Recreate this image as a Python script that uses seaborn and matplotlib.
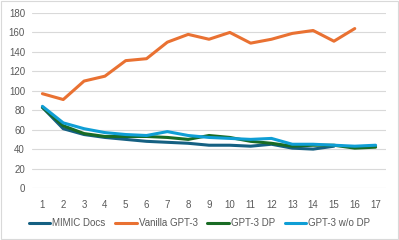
import numpy as np
import pandas as pd
import matplotlib.pyplot as plt
import seaborn as sns
from matplotlib.patches import Rectangle

# Values
mimic_docs = [83, 61, 55, 52, 50, 48, 47, 46, 44, 44, 43, 45, 41, 40, 43]
vanilla_gpt3 = [97, 91, 110, 115, 131, 133, 150, 158, 153, 160, 149, 153, 159, 162, 151, 164]
gpt3_dp = [83, 64, 56, 53, 53, 53, 52, 50, 54, 52, 48, 46, 43, 44, 44, 41, 42]
gpt3_wo_dp = [84, 67, 61, 57, 55, 54, 58, 54, 52, 51, 50, 51, 45, 45, 44, 43, 44]

series_names = ['MIMIC Docs', 'Vanilla GPT-3', 'GPT-3 DP', 'GPT-3 w/o DP']
series_values = [mimic_docs, vanilla_gpt3, gpt3_dp, gpt3_wo_dp]
colors = ['#156082', '#E97132', '#196B24', '#0F9ED5']
x_ticks = list(range(1, 18))
y_ticks = list(range(0, 181, 20))

rows = []
for name, vals in zip(series_names, series_values):
    for i, v in enumerate(vals):
        rows.append({'step': i + 1, 'value': v, 'series': name})
df = pd.DataFrame(rows)

sns.set_theme(style='white')
plt.rcParams['font.family'] = ['Liberation Sans', 'DejaVu Sans']

fig = plt.figure(figsize=(3.99, 2.40), dpi=100)
ax = fig.add_axes([32 / 399, 52 / 240, 354 / 399, 175 / 240])

sns.lineplot(data=df, x='step', y='value', hue='series', hue_order=series_names,
             palette=colors, linewidth=2.2, ax=ax, legend=False)

ax.set_xlim(0.5, 17.5)
ax.set_ylim(0, 180)
ax.set_xticks(x_ticks)
ax.set_yticks(y_ticks)
ax.set_xlabel('')
ax.set_ylabel('')
ax.yaxis.grid(True, color='#d9d9d9', linewidth=0.8)
ax.set_axisbelow(True)
for s in ax.spines.values():
    s.set_visible(False)
ax.tick_params(axis='both', length=0, labelsize=7, labelcolor='#595959')
ax.tick_params(axis='x', pad=9)
ax.tick_params(axis='y', pad=5)

handles = [plt.Line2D([], [], color=c, linewidth=2.2) for c in colors]
fig.legend(handles, series_names, loc='center', bbox_to_anchor=(0.5, 0.07), ncol=4,
           frameon=False, fontsize=7, labelcolor='#595959', handlelength=2.2,
           handletextpad=0.2, columnspacing=1.0)

fig.patches.append(Rectangle((0.002, 0.003), 0.995, 0.993, transform=fig.transFigure,
                             fill=False, edgecolor='#d9d9d9', linewidth=0.8))

fig.savefig('out.png', dpi=100)
